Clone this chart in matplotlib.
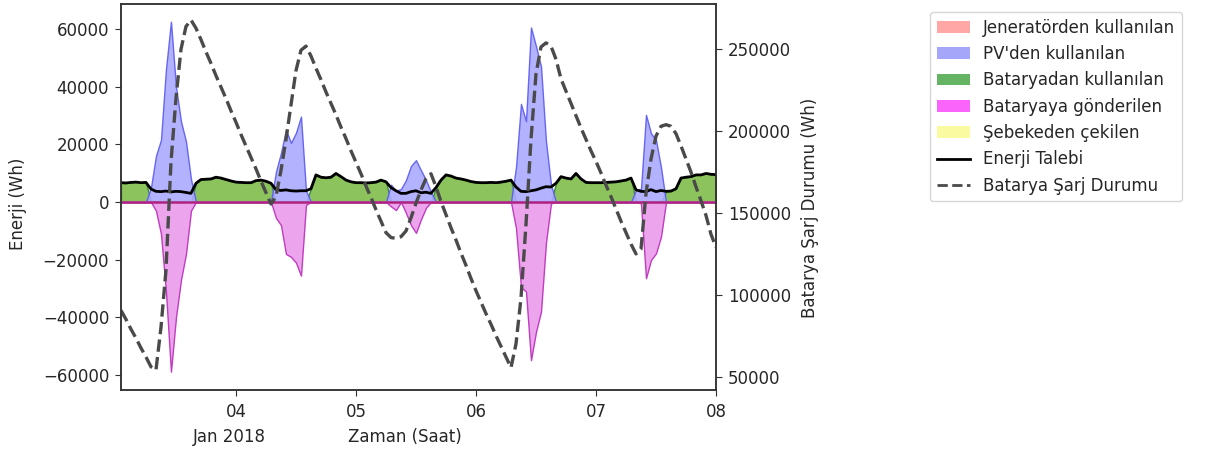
import matplotlib
matplotlib.use("Agg")
import matplotlib.pyplot as plt
import matplotlib.dates as mdates
from matplotlib.patches import Patch
from matplotlib.lines import Line2D
import numpy as np
import pandas as pd

# hourly data, 03 Jan 2018 01:00 -> 08 Jan 2018 00:00 (one row per day in the lists below)
times = pd.date_range("2018-01-03 01:00", periods=120, freq="h")

demand = [
    6700, 6600, 6800, 6900, 6700, 6800, 4500, 3700, 3600, 3800, 3500, 3700, 3600, 3300, 3000, 6500, 7800, 7900, 8000, 8600, 8300, 7800, 7300, 6900,
    6800, 6700, 6700, 7400, 7600, 7200, 6500, 4300, 4000, 4200, 3900, 3800, 3900, 3900, 4600, 9400, 8600, 8400, 8600, 9900, 8800, 7600, 7000, 6700,
    6700, 6600, 6700, 6900, 7600, 7000, 5000, 3900, 3000, 3000, 3600, 3900, 3200, 3400, 3000, 5000, 7600, 9400, 9000, 8300, 8000, 7600, 7100, 6800,
    6700, 6700, 6800, 6700, 6900, 7200, 7600, 5200, 3700, 3600, 3900, 4200, 4800, 5300, 5200, 6500, 8800, 8300, 8000, 9900, 8000, 6800, 6700, 6700,
    6700, 6800, 6900, 7000, 7300, 7600, 8300, 4200, 3700, 3600, 4300, 3600, 4000, 3700, 3800, 4600, 8300, 8600, 8800, 9400, 9400, 9900, 9600, 9500,
]

battery_used = [
    6700, 6600, 6800, 6900, 6700, 6800, 0, 0, 0, 0, 0, 0, 0, 0, 0, 6500, 7800, 7900, 8000, 8600, 8300, 7800, 7300, 6900,
    6800, 6700, 6700, 7400, 7600, 7200, 6500, 0, 0, 0, 0, 0, 0, 0, 4600, 9400, 8600, 8400, 8600, 9900, 8800, 7600, 7000, 6700,
    6700, 6600, 6700, 6900, 7600, 7000, 0, 0, 0, 0, 0, 0, 0, 0, 0, 5000, 7600, 9400, 9000, 8300, 8000, 7600, 7100, 6800,
    6700, 6700, 6800, 6700, 6900, 7200, 7600, 0, 0, 0, 0, 0, 0, 0, 0, 6500, 8800, 8300, 8000, 9900, 8000, 6800, 6700, 6700,
    6700, 6800, 6900, 7000, 7300, 7600, 8300, 0, 0, 0, 0, 0, 0, 3700, 3800, 4600, 8300, 8600, 8800, 9400, 9400, 9900, 9600, 9500,
]

pv_used = [
    0, 0, 0, 0, 0, 0, 5000, 16000, 21500, 46000, 62500, 40000, 28000, 21000, 8000, 0, 0, 0, 0, 0, 0, 0, 0, 0,
    0, 0, 0, 0, 0, 0, 0, 10500, 17000, 25000, 20500, 24000, 29600, 4000, 0, 0, 0, 0, 0, 0, 0, 0, 0, 0,
    0, 0, 0, 0, 0, 0, 6000, 3900, 4500, 7600, 12500, 14500, 11000, 7600, 3500, 0, 0, 0, 0, 0, 0, 0, 0, 0,
    0, 0, 0, 0, 0, 0, 0, 12000, 34000, 28000, 60500, 54000, 47000, 21000, 6000, 0, 0, 0, 0, 0, 0, 0, 0, 0,
    0, 0, 0, 0, 0, 0, 0, 4200, 4500, 30200, 23800, 21500, 12000, 0, 0, 0, 0, 0, 0, 0, 0, 0, 0, 0,
]

battery_charge = [
    0, 0, 0, 0, 0, 0, 0, -3000, -11000, -31000, -58800, -40000, -27000, -18000, -3000, 0, 0, 0, 0, 0, 0, 0, 0, 0,
    0, 0, 0, 0, 0, 0, 0, -5500, -8000, -18000, -19000, -21000, -25500, -1000, 0, 0, 0, 0, 0, 0, 0, 0, 0, 0,
    0, 0, 0, 0, 0, 0, -1500, -2800, 0, -3800, -8000, -10700, -6000, -2000, 0, 0, 0, 0, 0, 0, 0, 0, 0, 0,
    0, 0, 0, 0, 0, 0, 0, -9000, -29500, -31000, -54800, -45000, -38000, -14000, -500, 0, 0, 0, 0, 0, 0, 0, 0, 0,
    0, 0, 0, 0, 0, 0, 0, 0, -500, -26400, -20100, -17800, -12000, 0, 0, 0, 0, 0, 0, 0, 0, 0, 0, 0,
]

generator_used = np.zeros(120)
grid_used = np.zeros(120)

soc = [
    90500, 85000, 79000, 73500, 67500, 62000, 56000, 54000, 80000, 115000, 181000, 220000, 250000, 264000, 268000, 263000, 256000, 248500, 241500, 234000, 227000, 220000, 212500, 205500,
    198000, 191000, 184000, 177000, 169500, 162500, 155500, 160000, 176000, 195000, 216000, 237000, 249500, 252000, 246000, 238500, 231500, 224000, 217000, 210000, 202500, 195500, 188000, 181000,
    174000, 166500, 159500, 152000, 145000, 138000, 135000, 134500, 135500, 139000, 147000, 156000, 164000, 171000, 174000, 166000, 157000, 149000, 141000, 133500, 125500, 118000, 110000, 102500,
    95500, 88500, 82000, 75000, 68500, 62000, 55500, 70000, 98000, 143000, 195000, 235000, 251500, 254000, 252000, 244000, 232000, 224500, 217000, 209500, 202000, 195000, 188000, 181500,
    174500, 167000, 160000, 152500, 145000, 138000, 131000, 125000, 128000, 162000, 183000, 197000, 203000, 204000, 203000, 198500, 191000, 183000, 175000, 166000, 157500, 148500, 137000, 129000,
]

labels = ["Jeneratörden kullanılan", "PV'den kullanılan", "Bataryadan kullanılan",
          "Bataryaya gönderilen", "Şebekeden çekilen", "Enerji Talebi", "Batarya Şarj Durumu"]

plt.rcParams["font.family"] = "DejaVu Sans"
plt.rcParams["font.size"] = 12
text_col = "#262626"

fig = plt.figure(figsize=(12.06, 4.57), dpi=100)
ax = fig.add_axes([0.1003, 0.1466, 0.4934, 0.8446])
ax2 = ax.twinx()

ax.fill_between(times, 0, generator_used, facecolor="#ffa6a6", edgecolor="#e06060", lw=1)
ax.fill_between(times, 0, battery_used, facecolor="#8cc35c", edgecolor="#3d8a3d", lw=1)
ax.fill_between(times, 0, pv_used, facecolor="#aaaaff", edgecolor="#5a5af0", lw=1, alpha=0.9)
ax.fill_between(times, 0, battery_charge, facecolor="#eca4ec", edgecolor="#c03cc0", lw=1)
ax.fill_between(times, 0, grid_used, facecolor="#fafaa0", edgecolor="#e0e060", lw=1)
ax.axhline(0, color="#b0208c", lw=1.8)
ax.plot(times, demand, color="black", lw=2)

ax2.plot(times, soc, color="#4a4a4a", lw=2.4, ls="--")

ax.set_xlim(times[0], times[-1])
ax.set_ylim(-65165, 68630)
ax2.set_ylim(41800, 277750)

ax.xaxis.set_major_locator(mdates.DayLocator())
ax.xaxis.set_major_formatter(mdates.DateFormatter("%d"))

for a in (ax, ax2):
    a.tick_params(length=4, pad=4.5, labelsize=12, labelcolor=text_col, color="#333333")
    for s in a.spines.values():
        s.set_color("#333333")
        s.set_linewidth(1.1)
ax.tick_params(axis="x", pad=5)

ax.set_ylabel("Enerji (Wh)", color=text_col)
ax.yaxis.label.set_va("center")
ax.yaxis.set_label_coords(-0.1725, 0.483)
ax2.set_ylabel("Batarya Şarj Durumu (Wh)", color=text_col)
ax2.yaxis.label.set_va("center")
ax2.yaxis.set_label_coords(1.158, 0.4715)

fig.text(405 / 1206, 1 - 437 / 457, "Zaman (Saat)", ha="center", va="center", color=text_col)
fig.text(229 / 1206, 1 - 437 / 457, "Jan 2018", ha="center", va="center", color=text_col)

handles = [
    Patch(facecolor="#ffa6a6", label=labels[0]),
    Patch(facecolor="#a5a5fa", label=labels[1]),
    Patch(facecolor="#64b464", label=labels[2]),
    Patch(facecolor="#fa64fa", label=labels[3]),
    Patch(facecolor="#fafaa0", label=labels[4]),
    Line2D([], [], color="black", lw=2, label=labels[5]),
    Line2D([], [], color="#4a4a4a", lw=2, ls="--", label=labels[6]),
]
leg = fig.legend(handles=handles, loc="upper left", bbox_to_anchor=(0.7711, 0.9737),
                 borderaxespad=0, fontsize=12, frameon=True)
for t in leg.get_texts():
    t.set_color(text_col)

fig.savefig("out.png", dpi=100)
